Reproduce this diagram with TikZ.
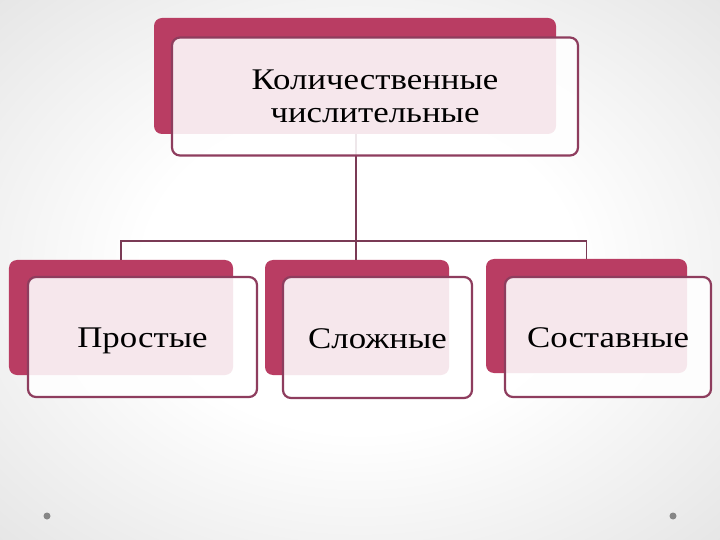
\documentclass[tikz,border=0pt]{standalone}
\usepackage{fontspec}
\setmainfont{Liberation Serif}[FakeStretch=1.16]
\definecolor{backmag}{HTML}{B93D63}
\definecolor{edgemag}{HTML}{8E3D5E}
\definecolor{linemag}{HTML}{7A3A55}
\definecolor{bggray}{HTML}{D2D2D2}
\definecolor{bgdark}{HTML}{C8C8C8}
\pgfdeclareradialshading{bgshade}{\pgfpoint{0bp}{0bp}}{color(0bp)=(white); color(15bp)=(white); color(52bp)=(bggray); color(72bp)=(bgdark)}
\tikzset{
  backbox/.style={rectangle, rounded corners=8bp, fill=backmag, draw=none, inner sep=0pt},
  frontbox/.style={rectangle, rounded corners=8bp, draw=edgemag, line width=2.2bp, fill=white, fill opacity=0.88, text opacity=1, inner sep=0pt, align=center, font=\fontsize{30bp}{33bp}\selectfont},
  smallfront/.style={frontbox, text height=23bp, text depth=2bp},
  conn/.style={draw=linemag, line width=1.8bp},
  dotmark/.style={circle, fill=gray!95, inner sep=0pt, minimum size=7bp}
}
\begin{document}
\begin{tikzpicture}[x=1bp,y=-1bp]
\useasboundingbox (0,0) rectangle (720,540);
\shade[shading=bgshade] (0,0) rectangle (720,540);
% back boxes
\node[backbox, minimum width=402bp, minimum height=116bp] (topback) at (355,76) {};
\node[backbox, minimum width=224bp, minimum height=115bp] (b1back) at (121,317.5) {};
\node[backbox, minimum width=184bp, minimum height=115bp] (b2back) at (357,317.5) {};
\node[backbox, minimum width=201bp, minimum height=114bp] (b3back) at (586.5,316) {};
% connectors
\coordinate (hub) at (356,241);
\draw[conn] (topback.south -| hub) -- (hub);
\draw[conn] (b1back.north) |- (hub);
\draw[conn] (b3back.north) |- (hub);
\draw[conn] (b2back.north -| hub) -- (hub);
% front boxes
\node[frontbox, minimum width=406bp, minimum height=118bp] (top) at (375,96.5) {Количественные\\числительные};
\node[smallfront, minimum width=229bp, minimum height=120bp] (b1) at (142.5,337) {Простые};
\node[smallfront, minimum width=189bp, minimum height=121bp] (b2) at (377.5,337.5) {Сложные};
\node[smallfront, minimum width=206bp, minimum height=120bp] (b3) at (608,337) {Составные};
% dots
\node[dotmark] (dl) at (47,516) {};
\node[dotmark] (dr) at (673,516) {};
\end{tikzpicture}
\end{document}
